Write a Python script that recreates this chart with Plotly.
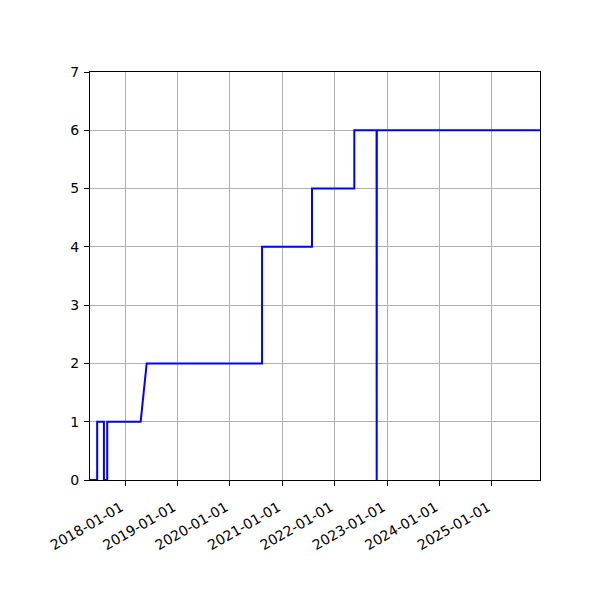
#!/usr/bin/env python

import plotly.graph_objects as go

# change points of the count (duplicate dates give vertical steps)
dates = [
    "2017-05-02", "2017-06-21", "2017-06-21", "2017-08-07", "2017-08-07",
    "2017-08-30", "2017-08-30", "2018-04-20", "2018-06-01", "2020-08-13",
    "2020-08-13", "2021-07-27", "2021-07-27", "2022-05-18", "2022-05-18",
    "2022-10-20", "2022-10-21", "2022-10-22", "2025-12-02",
]
values = [0, 0, 1, 1, 0, 0, 1, 1, 2, 2, 4, 4, 5, 5, 6, 6, 0, 6, 6]

year_ticks = [
    "2018-01-01", "2019-01-01", "2020-01-01", "2021-01-01",
    "2022-01-01", "2023-01-01", "2024-01-01", "2025-01-01",
]

fig = go.Figure()
fig.add_trace(
    go.Scatter(x=dates, y=values, mode="lines", line=dict(color="blue", width=2))
)

axis_style = dict(
    showline=True,
    linecolor="black",
    linewidth=1,
    mirror=True,
    ticks="outside",
    ticklen=5,
    tickcolor="black",
    showgrid=True,
    gridcolor="#b0b0b0",
    gridwidth=1,
    zeroline=False,
    tickfont=dict(family="DejaVu Sans", size=14, color="black"),
)

fig.update_xaxes(
    type="date",
    range=["2017-05-02", "2025-12-02"],
    tickvals=year_ticks,
    ticktext=year_ticks,
    tickangle=-30,
    ticklabelstandoff=8,
    ticklabelshift=-4,
    **axis_style,
)
fig.update_yaxes(range=[0, 7], dtick=1, tick0=0, ticklabelstandoff=2, **axis_style)

# page has an 8px body margin, so shift the plot area up/left to match
fig.update_layout(
    width=600,
    height=600,
    margin=dict(l=82, r=68, t=64, b=128),
    plot_bgcolor="white",
    paper_bgcolor="white",
    showlegend=False,
)

fig.write_html("out.html")
